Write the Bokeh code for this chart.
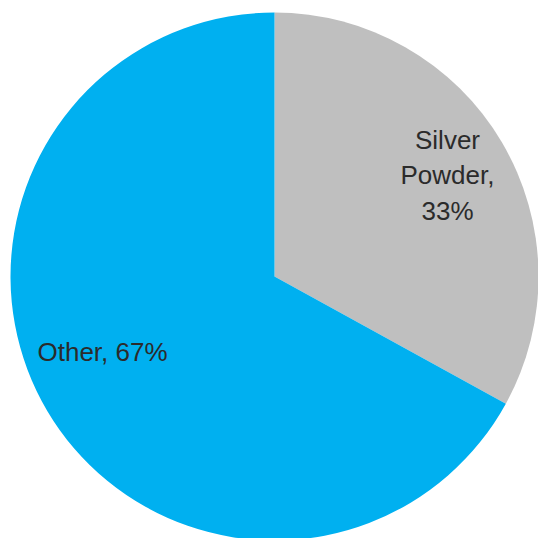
import math
from bokeh.plotting import figure
from bokeh.models import Range1d, ColumnDataSource
from bokeh.core.properties import value
from bokeh.embed import file_html
from bokeh.resources import INLINE

categories = ["Silver Powder", "Other"]
shares = [33, 67]
colors = ["#BFBFBF", "#00B0F0"]
label_texts = ["Silver\nPowder,\n33%", "Other, 67%"]

W = H = 538
cx, cy, r = 274, 262, 264

total = sum(shares)
starts, ends = [], []
a = math.pi / 2
for s in shares:
    starts.append(a)
    a -= s / total * 2 * math.pi
    ends.append(a)

src = ColumnDataSource(dict(cat=categories, val=shares, start=starts, end=ends, color=colors))

p = figure(width=W, height=H, output_backend="svg", toolbar_location=None,
           x_range=Range1d(0, W), y_range=Range1d(0, H), min_border=0)
p.axis.visible = False
p.grid.visible = False
p.outline_line_color = None
p.background_fill_color = "white"

p.wedge(x=cx, y=cy, radius=r, start_angle="start", end_angle="end", direction="clock",
        fill_color="color", line_color=None, source=src)

# label layout (pixel positions)
lx = [447, 37]
ly = [H - 175, H - 351]
align = ["center", "left"]
for t, x, y, al in zip(label_texts, lx, ly, align):
    p.text(x=[x], y=[y], text=[t], text_font=value("Liberation Sans"), text_font_size="26px",
           text_color="#2b2b2b", text_align=al, text_baseline="middle", text_line_height=1.17)

open("out.html", "w").write(file_html(p, INLINE))
